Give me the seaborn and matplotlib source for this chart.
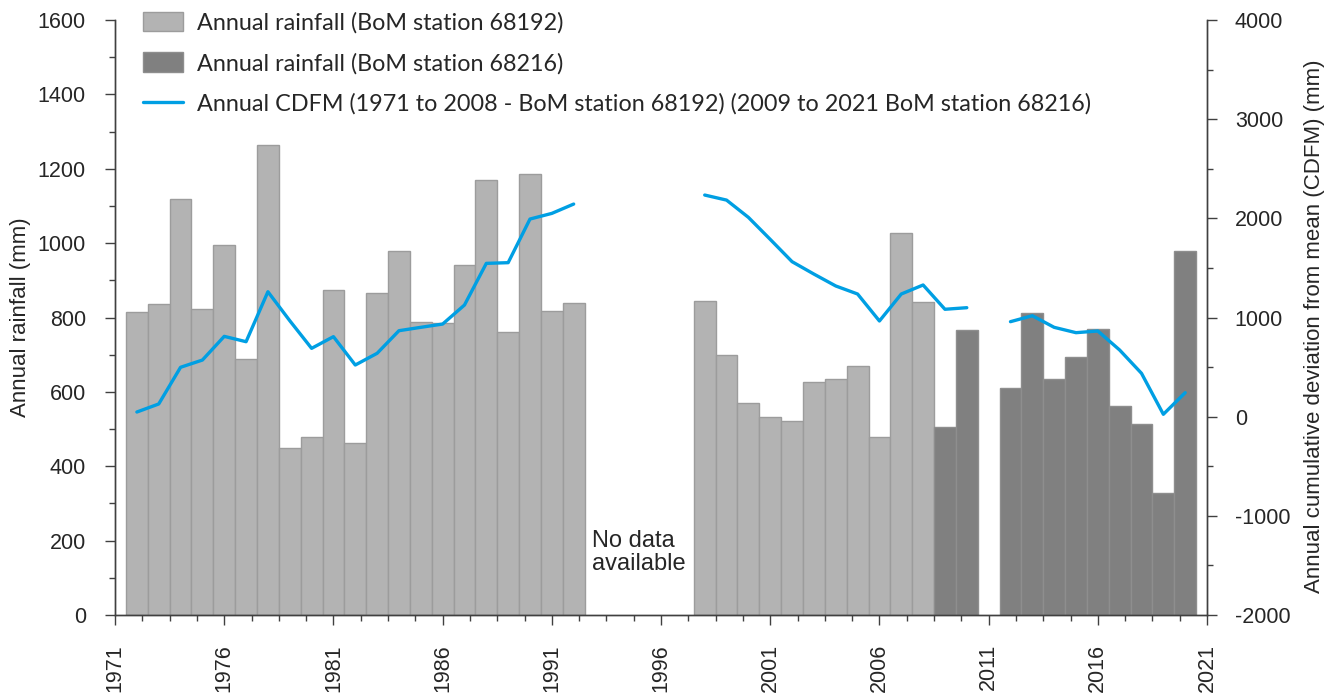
import numpy as np
import pandas as pd
import matplotlib
matplotlib.use('Agg')
import matplotlib.pyplot as plt
from matplotlib.ticker import MultipleLocator, FixedLocator
from matplotlib.patches import Patch
from matplotlib.lines import Line2D
import seaborn as sns

nan = np.nan

# Annual rainfall (mm), BoM station 68192
years_68192 = list(range(1972, 1993)) + list(range(1998, 2009))
rain_68192 = [815, 835, 1118, 824, 995, 689, 1264, 448, 479, 875, 463,
              867, 980, 787, 784, 940, 1169, 762, 1187, 818, 838,
              845, 700, 571, 533, 522, 626, 635, 670, 478, 1026, 842]

# Annual rainfall (mm), BoM station 68216
years_68216 = [2009, 2010] + list(range(2012, 2021))
rain_68216 = [505, 766, 610, 813, 634, 695, 770, 562, 514, 327, 980]

# Annual CDFM (mm), NaN = no data
cdfm_years = list(range(1972, 2021))
cdfm = [47, 128, 498, 571, 810, 756, 1260, 968, 689, 807, 521,
        639, 867, 901, 934, 1126, 1546, 1553, 1993, 2050, 2144,
        nan, nan, nan, nan, nan,
        2235, 2184, 2010, 1788, 1563, 1438, 1318, 1237, 965, 1237, 1328, 1083, 1099,
        nan,
        958, 1018, 901, 847, 864, 672, 437, 24, 242]

light = '#b3b3b3'
light_edge = '#9c9c9c'
dark = '#808080'
dark_edge = '#8e8e8e'
blue = '#009fe3'

sns.set_style('ticks')
plt.rcParams['font.family'] = ['Liberation Sans', 'DejaVu Sans']
plt.rcParams['axes.unicode_minus'] = False

fig, ax = plt.subplots(figsize=(13.33, 6.95), dpi=100)
fig.subplots_adjust(left=0.0863, right=0.9055, top=0.9712, bottom=0.1151)

sns.barplot(x=years_68192, y=rain_68192, native_scale=True, width=1, color=light,
            saturation=1, edgecolor=light_edge, linewidth=1, errorbar=None, ax=ax)
sns.barplot(x=years_68216, y=rain_68216, native_scale=True, width=1, color=dark,
            saturation=1, edgecolor=dark_edge, linewidth=1, errorbar=None, ax=ax)

ax2 = ax.twinx()
df_cdfm = pd.DataFrame({'year': cdfm_years, 'cdfm': cdfm})
df_cdfm['segment'] = df_cdfm['cdfm'].isna().cumsum()
df_cdfm = df_cdfm.dropna()
sns.lineplot(data=df_cdfm, x='year', y='cdfm', units='segment', estimator=None,
             color=blue, lw=2.4, ax=ax2)

ax.set_xlim(1971, 2021)
ax.set_ylim(0, 1600)
ax2.set_ylim(-2000, 4000)

ax.xaxis.set_major_locator(FixedLocator(np.arange(1971, 2022, 5)))
ax.xaxis.set_minor_locator(FixedLocator(np.arange(1971, 2021.01, 1.25)))
ax.yaxis.set_major_locator(MultipleLocator(200))
ax.yaxis.set_minor_locator(MultipleLocator(100))
ax2.yaxis.set_major_locator(MultipleLocator(1000))
ax2.yaxis.set_minor_locator(MultipleLocator(500))
ax.xaxis.set_major_formatter(matplotlib.ticker.FormatStrFormatter('%d'))

spine_col = '#404040'
for a in (ax, ax2):
    a.spines['top'].set_visible(False)
    for s in ('left', 'right', 'bottom'):
        a.spines[s].set_color(spine_col)
        a.spines[s].set_linewidth(1)
    a.tick_params(which='major', direction='out', length=7, width=1, color=spine_col, labelsize=15.5)
    a.tick_params(which='minor', direction='out', length=4, width=1, color=spine_col)
ax.tick_params(axis='x', labelrotation=90, pad=14)
ax.tick_params(axis='y', pad=14)
ax2.tick_params(axis='y', pad=13)

ax.set_xlabel('')
ax2.set_xlabel('')
ax.set_ylabel('Annual rainfall (mm)', fontsize=16)
ax2.set_ylabel('Annual cumulative deviation from mean (CDFM) (mm)', fontsize=16)
ax.yaxis.set_label_coords(-0.077, 0.5)
ax2.yaxis.set_label_coords(1.089, 0.485)

ax.text(1992.85, 167, 'No data\navailable', fontsize=17, ha='left', va='center', linespacing=1.05)

handles = [Patch(facecolor=light, edgecolor=light_edge),
           Patch(facecolor=dark, edgecolor=dark_edge),
           Line2D([], [], color=blue, lw=2.4)]
labels = ['Annual rainfall (BoM station 68192)',
          'Annual rainfall (BoM station 68216)',
          'Annual CDFM (1971 to 2008 - BoM station 68192) (2009 to 2021 BoM station 68216)']
ax2.legend(handles, labels, loc='upper left', bbox_to_anchor=(143 / 1333, 1 - 12 / 695),
           bbox_transform=fig.transFigure, frameon=False, borderpad=0, borderaxespad=0,
           prop={'family': ['Lato', 'DejaVu Sans'], 'size': 16.8}, handlelength=1.7,
           handleheight=0.9, handletextpad=0.6, labelspacing=0.8)

plt.savefig('out.png', dpi=100)
